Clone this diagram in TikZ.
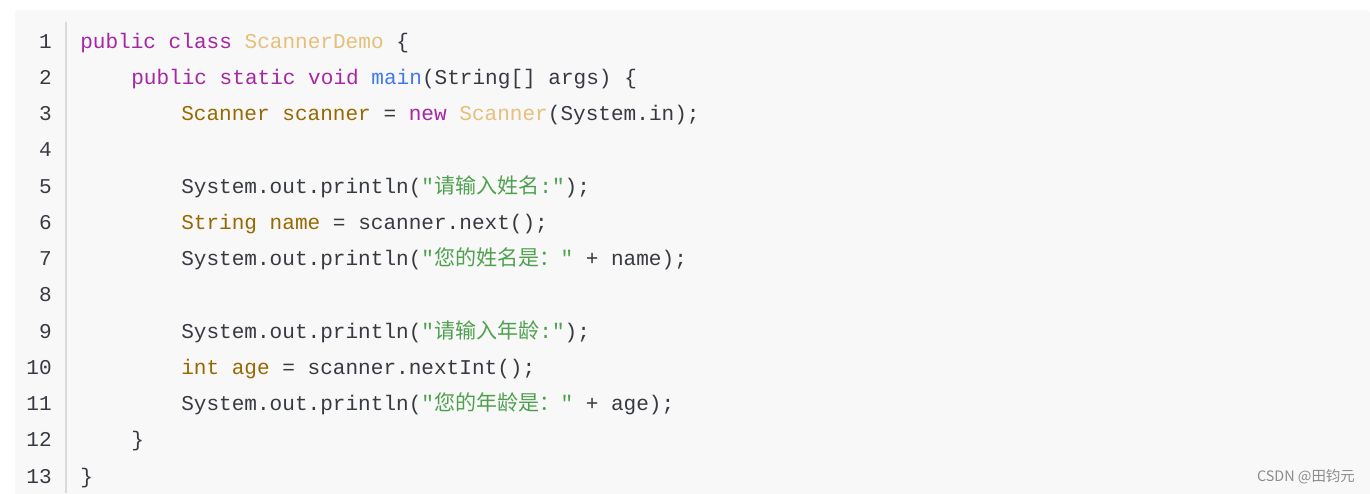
\documentclass[tikz,border=0pt]{standalone}
\usepackage{fontspec}
\setmonofont{Liberation Mono}
\newfontfamily\cjk{Noto Sans CJK SC}
\definecolor{bgcol}{HTML}{F8F8F8}
\definecolor{plain}{HTML}{383A42}
\definecolor{kw}{HTML}{A626A4}
\definecolor{cls}{HTML}{E5C07B}
\definecolor{fn}{HTML}{4078F2}
\definecolor{typ}{HTML}{986801}
\definecolor{str}{HTML}{50A14F}
\newcommand{\K}[1]{\textcolor{kw}{#1}}
\newcommand{\C}[1]{\textcolor{cls}{#1}}
\newcommand{\F}[1]{\textcolor{fn}{#1}}
\newcommand{\T}[1]{\textcolor{typ}{#1}}
\newcommand{\Sg}[1]{\textcolor{str}{#1}}
\newcommand{\zh}[1]{{\cjk #1}}
\tikzset{
    code/.style={anchor=base west,inner sep=0pt,text=plain,font=\fontsize{15.8}{18}\ttfamily},
    lnum/.style={anchor=base east,inner sep=0pt,text=plain,font=\fontsize{15.8}{18}\ttfamily},
    }
\begin{document}
\begin{tikzpicture}[x=0.75pt,y=-0.75pt]
    \useasboundingbox (0,0) rectangle (1370,493);
    \fill[bgcol,rounded corners=3] (15,10) rectangle (1370,500);
    \draw[black!15,line width=1pt] (66,22) -- (66,493);
    % line numbers
    \foreach \i in {1,...,13}
        \node[lnum] (n\i) at (52,{48+36.25*(\i-1)}) {\i};
    % code lines
    \node[code] (l1) at (80,48) {\K{public class} \C{ScannerDemo} \{};
    \node[code] (l2) at (131,84.25) {\K{public static void} \F{main}(String[] args) \{};
    \node[code] (l3) at (181,120.5) {\T{Scanner scanner} = \K{new} \C{Scanner}(System.in);};
    \node[code] (l5) at (181,193) {System.out.println(\Sg{"\zh{请输入姓名}:"});};
    \node[code] (l6) at (181,229.25) {\T{String name} = scanner.next();};
    \node[code] (l7) at (181,265.5) {System.out.println(\Sg{"\zh{您的姓名是：}"} + name);};
    \node[code] (l9) at (181,338) {System.out.println(\Sg{"\zh{请输入年龄}:"});};
    \node[code] (l10) at (181,374.25) {\T{int age} = scanner.nextInt();};
    \node[code] (l11) at (181,410.5) {System.out.println(\Sg{"\zh{您的年龄是：}"} + age);};
    \node[code] (l12) at (131,446.75) {\}};
    \node[code] (l13) at (80,483) {\}};
    % watermark
    \node[anchor=base east,inner sep=0pt,text=black!45,font=\cjk\fontsize{10.8}{12}\selectfont] (mark) at (1355,481) {CSDN @田钧元};
\end{tikzpicture}
\end{document}
